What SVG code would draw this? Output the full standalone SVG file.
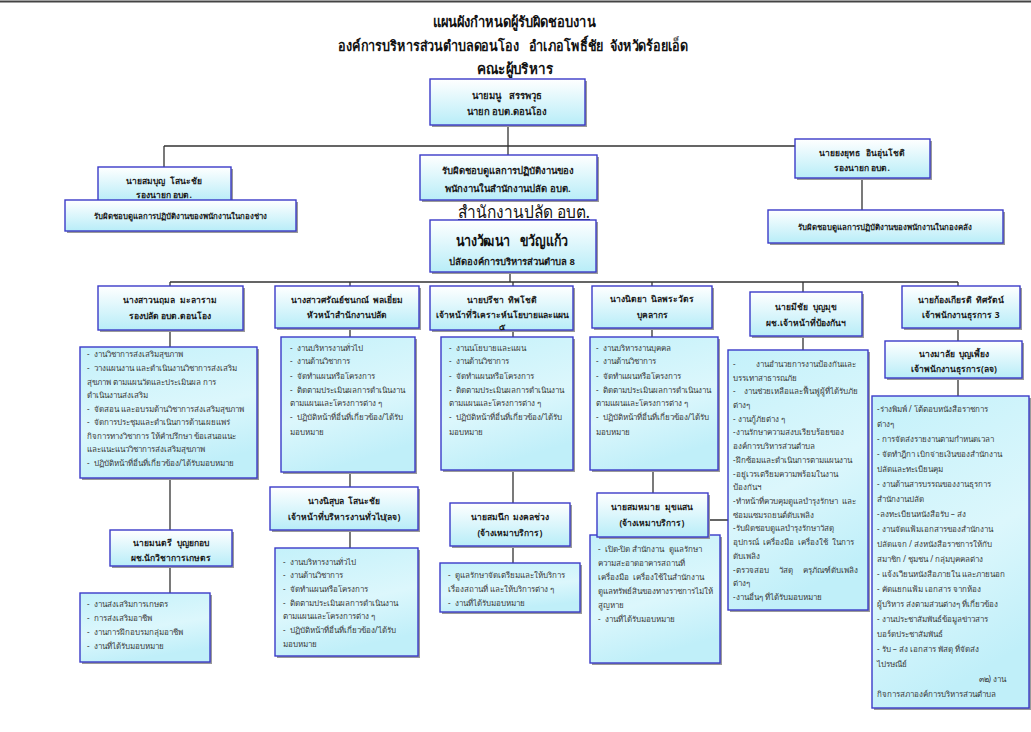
<svg xmlns="http://www.w3.org/2000/svg" width="1031" height="732" viewBox="0 0 1031 732">
<defs>
<linearGradient id="g" x1="0" y1="0" x2="0" y2="1">
<stop offset="0" stop-color="#ffffff"/>
<stop offset="1" stop-color="#b8edf8"/>
</linearGradient>
<linearGradient id="g2" x1="0" y1="0" x2="0.3" y2="1">
<stop offset="0" stop-color="#c4f1fa"/>
<stop offset="0.6" stop-color="#dcf7fc"/>
<stop offset="1" stop-color="#c0eff9"/>
</linearGradient>
</defs>
<style>
text{font-family:"Noto Sans","DejaVu Sans",sans-serif;}
.b{fill:url(#g);stroke:#3b3bc8;stroke-width:1.4;}
.l{fill:url(#g2);stroke:#3b3bc8;stroke-width:1.4;}
.sh{fill:#9a9a9a;}
.c{stroke:#333;stroke-width:1.3;fill:none;}
.t{font-size:14.5px;font-weight:bold;fill:#111;text-anchor:middle;}
.h{font-size:8.5px;font-weight:bold;fill:#1a1a1a;text-anchor:middle;}
.hm{font-size:9.5px;font-weight:bold;fill:#1a1a1a;text-anchor:middle;}
.hs{font-size:7.8px;font-weight:bold;fill:#1a1a1a;text-anchor:middle;}
.li{font-size:8px;fill:#3a3a3a;}
</style>
<rect x="0" y="0" width="1031" height="732" fill="#fff"/>
<line x1="0" y1="1.5" x2="1031" y2="1.5" stroke="#444" stroke-width="2"/>

<g id="title">
<text class="t" x="514" y="27" textLength="163" lengthAdjust="spacingAndGlyphs">แผนผังกำหนดผู้รับผิดชอบงาน</text>
<text class="t" x="513" y="51" textLength="350" lengthAdjust="spacingAndGlyphs" xml:space="preserve">องค์การบริหารส่วนตำบลดอนโอง   อำเภอโพธิ์ชัย  จังหวัดร้อยเอ็ด</text>
<text class="t" x="515" y="74" textLength="76" lengthAdjust="spacingAndGlyphs">คณะผู้บริหาร</text>
</g>

<g id="connectors">
<path class="c" d="M508 125V155M164 146H795M164 146V167M862 178V210M510 272V282M170 282H958M170 282V286M350 282V286M513 282V286M652 282V286M803 282V292M958 282V286M170 330V347M170 478V530M170 566V593M350 328V337M350 472V487M350 530V548M513 330V337M513 470V503M513 546V563M652 328V337M653 470V493M708 520H730M803 336V350M958 328V341M958 378V396"/>
</g>

<g id="n-mayor">
<rect class="sh" x="432" y="81" width="155" height="46"/>
<rect class="b" x="430" y="79" width="155" height="46"/>
<text class="hm" x="507" y="99" xml:space="preserve">นายมนู   สรรพวุธ</text>
<text class="hm" x="507" y="115">นายก อบต.ดอนโอง</text>
</g>

<g id="n-deputy1">
<rect class="sh" x="100" y="169" width="133" height="34"/>
<rect class="b" x="98" y="167" width="133" height="34"/>
<text class="h" x="164" y="184" xml:space="preserve">นายสมบุญ  โสนะชัย</text>
<text class="h" x="164" y="198">รองนายก อบต.</text>
</g>
<g id="n-duty1">
<rect class="sh" x="67" y="202" width="231" height="31"/>
<rect class="b" x="65" y="200" width="231" height="31"/>
<text class="hs" x="180" y="219">รับผิดชอบดูแลการปฏิบัติงานของพนักงานในกองช่าง</text>
</g>

<g id="n-duty-center">
<rect class="sh" x="422" y="157" width="177" height="45"/>
<rect class="b" x="420" y="155" width="177" height="45"/>
<text class="hm" x="508" y="174">รับผิดชอบดูแลการปฏิบัติงานของ</text>
<text class="hm" x="508" y="192">พนักงานในสำนักงานปลัด อบต.</text>
</g>

<g id="n-deputy2">
<rect class="sh" x="797" y="141" width="135" height="39"/>
<rect class="b" x="795" y="139" width="135" height="39"/>
<text class="h" x="862" y="156" xml:space="preserve">นายยงยุทธ   อินอุ่นโชติ</text>
<text class="h" x="862" y="171">รองนายก อบต.</text>
</g>
<g id="n-duty2">
<rect class="sh" x="770" y="212" width="235" height="33"/>
<rect class="b" x="768" y="210" width="235" height="33"/>
<text class="hs" x="885" y="230">รับผิดชอบดูแลการปฏิบัติงานของพนักงานในกองคลัง</text>
</g>

<g id="office-label">
<text x="524" y="218" font-size="17" fill="#111" text-anchor="middle" text-decoration="underline" textLength="132" lengthAdjust="spacingAndGlyphs">สำนักงานปลัด อบต.</text>
</g>

<g id="n-clerk">
<rect class="sh" x="432" y="222" width="166" height="52"/>
<rect class="b" x="430" y="220" width="166" height="52"/>
<text x="512" y="246" font-size="15" font-weight="bold" fill="#111" text-anchor="middle" textLength="112" lengthAdjust="spacingAndGlyphs" xml:space="preserve">นางวัฒนา   ขวัญแก้ว</text>
<text class="hm" x="512" y="265">ปลัดองค์การบริหารส่วนตำบล 8</text>
</g>

<g id="n-c1">
<rect class="sh" x="100" y="288" width="145" height="44"/>
<rect class="b" x="98" y="286" width="145" height="44"/>
<text class="h" x="170" y="303" xml:space="preserve">นางสาวนฤมล  มะลาราม</text>
<text class="h" x="170" y="319">รองปลัด อบต.ดอนโอง</text>
</g>
<g id="n-c2">
<rect class="sh" x="277" y="288" width="144" height="42"/>
<rect class="b" x="275" y="286" width="144" height="42"/>
<text class="h" x="347" y="303" xml:space="preserve">นางสาวศรัณย์ชนกณ์  พลเยี่ยม</text>
<text class="h" x="347" y="318">หัวหน้าสำนักงานปลัด</text>
</g>
<g id="n-c3">
<rect class="sh" x="432" y="288" width="143" height="44"/>
<rect class="b" x="430" y="286" width="143" height="44"/>
<text class="h" x="502" y="303" xml:space="preserve">นายปรีชา  ทิพโชติ</text>
<text class="h" x="502" y="318">เจ้าหน้าที่วิเคราะห์นโยบายและแผน</text>
<text class="h" x="502" y="330">๕</text>
</g>
<g id="n-c4">
<rect class="sh" x="594" y="288" width="120" height="42"/>
<rect class="b" x="592" y="286" width="120" height="42"/>
<text class="h" x="652" y="302" xml:space="preserve">นางนิตยา  นิลพระวัตร</text>
<text class="h" x="652" y="318">บุคลากร</text>
</g>
<g id="n-c5">
<rect class="sh" x="752" y="294" width="112" height="44"/>
<rect class="b" x="750" y="292" width="112" height="44"/>
<text class="h" x="806" y="310" xml:space="preserve">นายมีชัย  บุญมุข</text>
<text class="h" x="806" y="326">ผช.เจ้าหน้าที่ป้องกันฯ</text>
</g>
<g id="n-c6">
<rect class="sh" x="904" y="288" width="118" height="42"/>
<rect class="b" x="902" y="286" width="118" height="42"/>
<text class="h" x="961" y="303" xml:space="preserve">นายก้องเกียรติ  ทิศรัตน์</text>
<text class="h" x="961" y="318">เจ้าพนักงานธุรการ 3</text>
</g>

<g id="l-c1">
<rect class="sh" x="82" y="349" width="177" height="131"/>
<rect class="l" x="80" y="347" width="177" height="131"/>
<text class="li" xml:space="preserve"><tspan x="87" y="357">-  งานวิชาการส่งเสริมสุขภาพ</tspan><tspan x="87" y="371">-  วางแผนงาน และดำเนินงานวิชาการส่งเสริม</tspan><tspan x="87" y="385">สุขภาพ ตามแผนวัดและประเมินผล การ</tspan><tspan x="87" y="398">ดำเนินงานส่งเสริม</tspan><tspan x="87" y="412">-  จัดสอน และอบรมด้านวิชาการส่งเสริมสุขภาพ</tspan><tspan x="87" y="425">-  จัดการประชุมและดำเนินการด้านเผยแพร่</tspan><tspan x="87" y="439">กิจการทางวิชาการ ให้คำปรึกษา ข้อเสนอแนะ</tspan><tspan x="87" y="452">และแนะแนววิชาการส่งเสริมสุขภาพ</tspan><tspan x="87" y="466">-  ปฏิบัติหน้าที่อื่นที่เกี่ยวข้อง/ได้รับมอบหมาย</tspan></text>
</g>
<g id="n-c1b">
<rect class="sh" x="112" y="532" width="122" height="36"/>
<rect class="b" x="110" y="530" width="122" height="36"/>
<text class="h" x="171" y="546" xml:space="preserve">นายมนตรี  บุญยกอบ</text>
<text class="h" x="171" y="561">ผช.นักวิชาการเกษตร</text>
</g>
<g id="l-c1b">
<rect class="sh" x="82" y="595" width="130" height="69"/>
<rect class="l" x="80" y="593" width="130" height="69"/>
<text class="li" xml:space="preserve"><tspan x="87" y="607">-  งานส่งเสริมการเกษตร</tspan><tspan x="87" y="621">-  การส่งเสริมอาชีพ</tspan><tspan x="87" y="635">-  งานการฝึกอบรมกลุ่มอาชีพ</tspan><tspan x="87" y="649">-  งานที่ได้รับมอบหมาย</tspan></text>
</g>

<g id="l-c2">
<rect class="sh" x="283" y="339" width="134" height="135"/>
<rect class="l" x="281" y="337" width="134" height="135"/>
<text class="li" xml:space="preserve"><tspan x="290" y="351">-  งานบริหารงานทั่วไป</tspan><tspan x="290" y="364">-  งานด้านวิชาการ</tspan><tspan x="290" y="379">-  จัดทำแผนหรือโครงการ</tspan><tspan x="290" y="393">-  ติดตามประเมินผลการดำเนินงาน</tspan><tspan x="290" y="406">ตามแผนและโครงการต่าง ๆ</tspan><tspan x="290" y="420">-  ปฏิบัติหน้าที่อื่นที่เกี่ยวข้อง/ได้รับ</tspan><tspan x="290" y="435">มอบหมาย</tspan></text>
</g>
<g id="n-c2b">
<rect class="sh" x="272" y="489" width="148" height="43"/>
<rect class="b" x="270" y="487" width="148" height="43"/>
<text class="h" x="344" y="504" xml:space="preserve">นางนิสุบล  โสนะชัย</text>
<text class="h" x="344" y="520">เจ้าหน้าที่บริหารงานทั่วไป(ลจ)</text>
</g>
<g id="l-c2b">
<rect class="sh" x="277" y="550" width="143" height="108"/>
<rect class="l" x="275" y="548" width="143" height="108"/>
<text class="li" xml:space="preserve"><tspan x="283" y="565">-  งานบริหารงานทั่วไป</tspan><tspan x="283" y="578">-  งานด้านวิชาการ</tspan><tspan x="283" y="592">-  จัดทำแผนหรือโครงการ</tspan><tspan x="283" y="606">-  ติดตามประเมินผลการดำเนินงาน</tspan><tspan x="283" y="619">ตามแผนและโครงการต่าง ๆ</tspan><tspan x="283" y="633">-  ปฏิบัติหน้าที่อื่นที่เกี่ยวข้อง/ได้รับ</tspan><tspan x="283" y="647">มอบหมาย</tspan></text>
</g>

<g id="l-c3">
<rect class="sh" x="443" y="339" width="132" height="133"/>
<rect class="l" x="441" y="337" width="132" height="133"/>
<text class="li" xml:space="preserve"><tspan x="449" y="351">-  งานนโยบายและแผน</tspan><tspan x="449" y="364">-  งานด้านวิชาการ</tspan><tspan x="449" y="379">-  จัดทำแผนหรือโครงการ</tspan><tspan x="449" y="393">-  ติดตามประเมินผลการดำเนินงาน</tspan><tspan x="449" y="406">ตามแผนและโครงการต่าง ๆ</tspan><tspan x="449" y="420">-  ปฏิบัติหน้าที่อื่นที่เกี่ยวข้อง/ได้รับ</tspan><tspan x="449" y="435">มอบหมาย</tspan></text>
</g>
<g id="n-c3b">
<rect class="sh" x="452" y="505" width="120" height="43"/>
<rect class="b" x="450" y="503" width="120" height="43"/>
<text class="h" x="510" y="520" xml:space="preserve">นายสมนึก  มงคลช่วง</text>
<text class="h" x="510" y="536">(จ้างเหมาบริการ)</text>
</g>
<g id="l-c3b">
<rect class="sh" x="442" y="565" width="140" height="49"/>
<rect class="l" x="440" y="563" width="140" height="49"/>
<text class="li" xml:space="preserve"><tspan x="448" y="578">-  ดูแลรักษาจัดเตรียมและให้บริการ</tspan><tspan x="448" y="592">เรื่องสถานที่ และให้บริการต่าง ๆ</tspan><tspan x="448" y="606">-  งานที่ได้รับมอบหมาย</tspan></text>
</g>

<g id="l-c4">
<rect class="sh" x="592" y="339" width="128" height="133"/>
<rect class="l" x="590" y="337" width="128" height="133"/>
<text class="li" xml:space="preserve"><tspan x="596" y="351">-  งานบริหารงานบุคคล</tspan><tspan x="596" y="364">-  งานด้านวิชาการ</tspan><tspan x="596" y="379">-  จัดทำแผนหรือโครงการ</tspan><tspan x="596" y="393">-  ติดตามประเมินผลการดำเนินงาน</tspan><tspan x="596" y="406">ตามแผนและโครงการต่าง ๆ</tspan><tspan x="596" y="420">-  ปฏิบัติหน้าที่อื่นที่เกี่ยวข้อง/ได้รับ</tspan><tspan x="596" y="435">มอบหมาย</tspan></text>
</g>
<g id="l-c4b">
<rect class="sh" x="592" y="537" width="130" height="128"/>
<rect class="l" x="590" y="535" width="130" height="128"/>
<text class="li" xml:space="preserve"><tspan x="598" y="552">-  เปิด-ปิด สำนักงาน  ดูแลรักษา</tspan><tspan x="598" y="566">ความสะอาดอาคารสถานที่</tspan><tspan x="598" y="580">เครื่องมือ  เครื่องใช้ในสำนักงาน</tspan><tspan x="598" y="594">ดูแลทรัพย์สินของทางราชการไม่ให้</tspan><tspan x="598" y="608">สูญหาย</tspan><tspan x="598" y="622">-  งานที่ได้รับมอบหมาย</tspan></text>
</g>
<g id="n-c4b">
<rect class="sh" x="599" y="495" width="111" height="44"/>
<rect class="b" x="597" y="493" width="111" height="44"/>
<text class="h" x="652" y="510" xml:space="preserve">นายสมหมาย  มุขแสน</text>
<text class="h" x="652" y="526">(จ้างเหมาบริการ)</text>
</g>

<g id="l-c5">
<rect class="sh" x="730" y="352" width="140" height="260"/>
<rect class="l" x="728" y="350" width="140" height="260"/>
<text class="li" xml:space="preserve"><tspan x="733" y="367">-          งานอำนวยการงานป้องกันและ</tspan><tspan x="733" y="381">บรรเทาสาธารณภัย</tspan><tspan x="733" y="394">-    งานช่วยเหลือและฟื้นฟูผู้ที่ได้รับภัย</tspan><tspan x="733" y="408">ต่างๆ</tspan><tspan x="733" y="422">- งานกู้ภัยต่าง ๆ</tspan><tspan x="733" y="435">-งานรักษาความสงบเรียบร้อยของ</tspan><tspan x="733" y="449">องค์การบริหารส่วนตำบล</tspan><tspan x="733" y="463">-ฝึกซ้อมและดำเนินการตามแผนงาน</tspan><tspan x="733" y="477">-อยู่เวรเตรียมความพร้อมในงาน</tspan><tspan x="733" y="490">ป้องกันฯ</tspan><tspan x="733" y="504">-ทำหน้าที่ควบคุมดูแลบำรุงรักษา  และ</tspan><tspan x="733" y="518">ซ่อมแซมรถยนต์ดับเพลิง</tspan><tspan x="733" y="531">-รับผิดชอบดูแลบำรุงรักษาวัสดุ</tspan><tspan x="733" y="545">อุปกรณ์  เครื่องมือ  เครื่องใช้  ในการ</tspan><tspan x="733" y="559">ดับเพลิง</tspan><tspan x="733" y="573">-ตรวจสอบ     วัสดุ     ครุภัณฑ์ดับเพลิง</tspan><tspan x="733" y="586">ต่างๆ</tspan><tspan x="733" y="600">-งานอื่นๆ ที่ได้รับมอบหมาย</tspan></text>
</g>

<g id="n-c6b">
<rect class="sh" x="887" y="343" width="137" height="37"/>
<rect class="b" x="885" y="341" width="137" height="37"/>
<text class="h" x="954" y="357" xml:space="preserve">นางมาลัย  บุญเพี้ยง</text>
<text class="h" x="954" y="372">เจ้าพนักงานธุรการ(ลจ)</text>
</g>
<g id="l-c6">
<rect class="sh" x="874" y="398" width="157" height="312"/>
<rect class="l" x="872" y="396" width="157" height="312"/>
<text class="li" xml:space="preserve"><tspan x="877" y="412">-ร่างพิมพ์ / โต้ตอบหนังสือราชการ</tspan><tspan x="877" y="427">ต่างๆ</tspan><tspan x="877" y="442">- การจัดส่งรายงานตามกำหนดเวลา</tspan><tspan x="877" y="457">- จัดทำฎีกา เบิกจ่ายเงินของสำนักงาน</tspan><tspan x="877" y="472">ปลัดและทะเบียนคุม</tspan><tspan x="877" y="487">- งานด้านสารบรรณของงานธุรการ</tspan><tspan x="877" y="502">สำนักงานปลัด</tspan><tspan x="877" y="517">-ลงทะเบียนหนังสือรับ – ส่ง</tspan><tspan x="877" y="532">- งานจัดแฟ้มเอกสารของสำนักงาน</tspan><tspan x="877" y="547">ปลัดแจก / ส่งหนังสือราชการให้กับ</tspan><tspan x="877" y="562">สมาชิก / ชุมชน / กลุ่มบุคคลต่าง</tspan><tspan x="877" y="577">- แจ้งเวียนหนังสือภายใน และภายนอก</tspan><tspan x="877" y="592">- คัดแยกแฟ้ม เอกสาร จากห้อง</tspan><tspan x="877" y="607">ผู้บริหาร ส่งตามส่วนต่างๆ ที่เกี่ยวข้อง</tspan><tspan x="877" y="622">- งานประชาสัมพันธ์ข้อมูลข่าวสาร</tspan><tspan x="877" y="637">บอร์ดประชาสัมพันธ์</tspan><tspan x="877" y="652">- รับ – ส่ง เอกสาร พัสดุ ที่จัดส่ง</tspan><tspan x="877" y="667">ไปรษณีย์</tspan></text>
<text class="li" x="1006" y="682" text-anchor="end">๓๒) งาน</text>
<text class="li" x="877" y="697">กิจการสภาองค์การบริหารส่วนตำบล</text>
</g>
</svg>
